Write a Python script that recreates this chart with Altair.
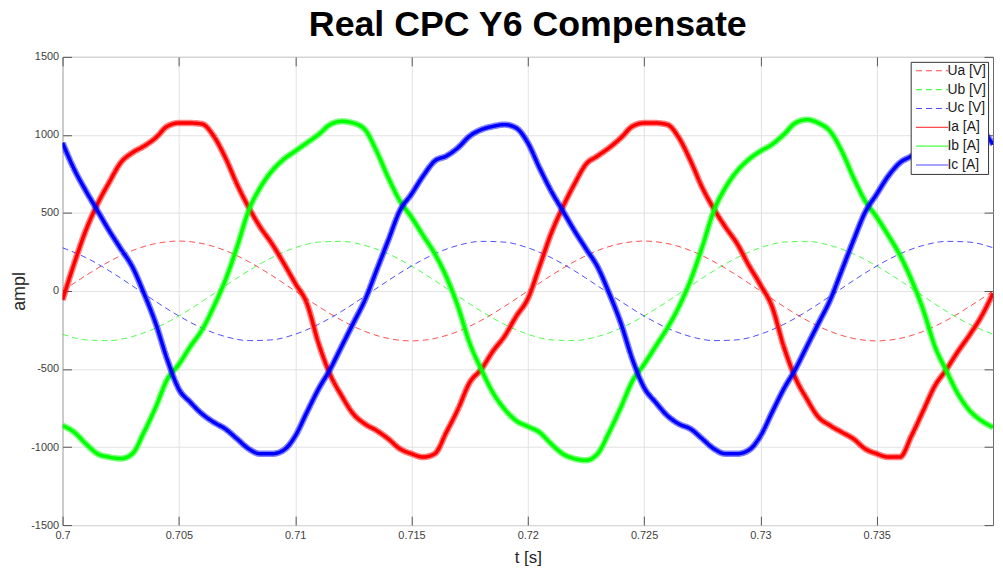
import altair as alt
import pandas as pd

# sampling instants (s)
T_I = [round(0.7 + 0.0005 * i, 4) for i in range(81)]
T_U = [round(0.7 + 0.001 * i, 3) for i in range(41)]

# phase voltages [V], read every 1 ms
UA = [0, 99, 188, 259, 304, 320, 304, 259, 188, 99, 0, -99, -188, -259, -304, -320, -304, -259, -188, -99,
      0, 99, 188, 259, 304, 320, 304, 259, 188, 99, 0, -99, -188, -259, -304, -320, -304, -259, -188, -99, 0]
UB = [-277, -313, -318, -292, -238, -160, -67, 33, 130, 214, 277, 313, 318, 292, 238, 160, 67, -33, -130, -214,
      -277, -313, -318, -292, -238, -160, -67, 33, 130, 214, 277, 313, 318, 292, 238, 160, 67, -33, -130, -214, -277]
UC = [277, 214, 130, 33, -67, -160, -238, -292, -318, -313, -277, -214, -130, -33, 67, 160, 238, 292, 318, 313,
      277, 214, 130, 33, -67, -160, -238, -292, -318, -313, -277, -214, -130, -33, 67, 160, 238, 292, 318, 313, 277]

# line currents [A], read every 0.5 ms
IA = [-57, 176, 388, 557, 695, 822, 886, 928, 981, 1055, 1076, 1076, 1070, 992, 854, 684, 536, 409, 303, 180,
      50, -78, -333, -534, -672, -788, -852, -894, -947, -1011, -1043, -1064, -1043, -905, -757, -587, -502, -386, -290, -163,
      -50, 155, 367, 536, 684, 812, 865, 918, 981, 1055, 1076, 1076, 1066, 981, 833, 663, 526, 409, 303, 165,
      40, -100, -354, -555, -693, -809, -862, -905, -947, -1011, -1043, -1064, -1064, -926, -767, -608, -502, -386, -280, -163,
      -15]
IB = [-862, -905, -979, -1043, -1064, -1074, -1043, -905, -746, -566, -470, -354, -248, -100, 70, 282, 515, 663, 769, 843,
      896, 949, 1002, 1066, 1087, 1076, 1034, 896, 727, 578, 473, 356, 239, 91, -100, -333, -502, -651, -757, -831,
      -868, -905, -979, -1043, -1074, -1085, -1043, -905, -746, -576, -470, -354, -237, -100, 70, 282, 515, 663, 769, 843,
      896, 939, 1002, 1076, 1098, 1076, 1023, 896, 727, 578, 473, 356, 229, 70, -121, -354, -513, -661, -767, -831,
      -873]
IC = [949, 780, 642, 515, 388, 271, 155, -15, -206, -439, -629, -714, -788, -841, -884, -947, -1011, -1043, -1043, -1020,
      -930, -778, -629, -502, -354, -206, -57, 133, 324, 515, 621, 737, 833, 865, 918, 992, 1034, 1055, 1066, 1045,
      950, 790, 642, 515, 388, 271, 155, -15, -206, -439, -619, -714, -799, -852, -884, -947, -1011, -1043, -1043, -1020,
      -930, -778, -629, -502, -354, -206, -57, 133, 324, 504, 621, 737, 822, 865, 918, 992, 1034, 1055, 1066, 1034,
      939]

SERIES = ["Ua [V]", "Ub [V]", "Uc [V]", "Ia [A]", "Ib [A]", "Ic [A]"]
COLORS = ["#ff0000", "#00ff00", "#0000ff", "#ff0000", "#00ff00", "#0000ff"]
DASHES = [[6, 4], [6, 4], [6, 4], [1, 0], [1, 0], [1, 0]]
X_TICKS = [0.7, 0.705, 0.71, 0.715, 0.72, 0.725, 0.73, 0.735]
Y_TICKS = [-1500, -1000, -500, 0, 500, 1000, 1500]

FONT = "Liberation Sans"


def frame(ts, vs, name):
    return pd.DataFrame({"t": ts, "v": vs, "series": [name] * len(ts)})


df_u = pd.concat([frame(T_U, UA, SERIES[0]), frame(T_U, UB, SERIES[1]), frame(T_U, UC, SERIES[2])])
df_ia = frame(T_I, IA, SERIES[3])
df_ib = frame(T_I, IB, SERIES[4])
df_ic = frame(T_I, IC, SERIES[5])

xscale = alt.Scale(domain=[0.7, 0.74], nice=False, zero=False)
yscale = alt.Scale(domain=[-1500, 1500], nice=False, zero=False)

legend = alt.Legend(
    orient="top-right", offset=5, title=None, fillColor="white", strokeColor="#333333",
    padding=2, labelFont=FONT, labelFontSize=14, labelColor="#1a1a1a",
    symbolType="M-0.6,0H4.8", symbolSize=144, symbolStrokeWidth=1.2, symbolOpacity=0.7,
    labelOffset=21, rowPadding=5, cornerRadius=0,
)
color = alt.Color("series:N", scale=alt.Scale(domain=SERIES, range=COLORS), legend=legend, title=None)
dash = alt.StrokeDash("series:N", scale=alt.Scale(domain=SERIES, range=DASHES), legend=legend, title=None)

TICK_COLOR = "#555555"
GRID_COLOR = "#e2e2e2"
ax_bottom = alt.Axis(
    orient="bottom", values=X_TICKS, offset=-9, tickSize=9, tickColor=TICK_COLOR, grid=True,
    gridColor=GRID_COLOR, domain=False, labelExpr="'' + datum.value", labelFont=FONT,
    labelFontSize=11, labelColor="#404040", labelPadding=5, labelFlush=False, labelOverlap=False,
    title="t [s]", titleFont=FONT, titleFontSize=17, titleFontWeight="normal",
    titleColor="#262626", titlePadding=9,
)
ax_left = alt.Axis(
    orient="left", values=Y_TICKS, offset=-9, tickSize=9, tickColor=TICK_COLOR, grid=True,
    gridColor=GRID_COLOR, domain=False, labelExpr="'' + datum.value", labelFont=FONT,
    labelFontSize=11, labelColor="#404040", labelPadding=4, labelOverlap=False,
    title="ampl", titleFont=FONT, titleFontSize=18, titleFontWeight="normal",
    titleColor="#262626", titlePadding=2,
)
ax_top = alt.Axis(orient="top", values=X_TICKS, offset=-9, tickSize=9, tickColor=TICK_COLOR,
                  grid=False, domain=False, labels=False, title=None)
ax_right = alt.Axis(orient="right", values=Y_TICKS, offset=-9, tickSize=9, tickColor=TICK_COLOR,
                    grid=False, domain=False, labels=False, title=None)

volt = alt.Chart(df_u).mark_line(strokeWidth=1, opacity=0.7, interpolate="monotone", clip=True).encode(
    x=alt.X("t:Q", scale=xscale, axis=ax_bottom),
    y=alt.Y("v:Q", scale=yscale, axis=ax_left),
    color=color, strokeDash=dash,
)


def current(df, width, opacity, xa=None, ya=None):
    return alt.Chart(df).mark_line(strokeWidth=width, opacity=opacity, interpolate="monotone",
                                   clip=True).encode(
        x=alt.X("t:Q", scale=xscale, axis=xa),
        y=alt.Y("v:Q", scale=yscale, axis=ya),
        color=color, strokeDash=dash,
    )


layers = [
    volt,
    current(df_ia, 6.5, 0.5, ax_top, ax_right), current(df_ia, 3.5, 1),
    current(df_ib, 6.5, 0.5), current(df_ib, 3.5, 1),
    current(df_ic, 6.5, 0.5), current(df_ic, 3.5, 1),
]

chart = alt.layer(*layers).resolve_axis(x="independent", y="independent").properties(
    width=938, height=472,
    autosize=alt.AutoSizeParams(type="none"),
    padding={"left": 55, "top": 47, "right": 2, "bottom": 45},
    title=alt.TitleParams("Real CPC Y6 Compensate", font=FONT, fontSize=36, fontWeight="bold",
                          color="black", anchor="middle", frame="group", offset=7),
    background="white",
).configure_view(stroke="#6b6b6b", strokeWidth=1)

chart.save("out.html", embed_options={"renderer": "svg", "actions": False})
